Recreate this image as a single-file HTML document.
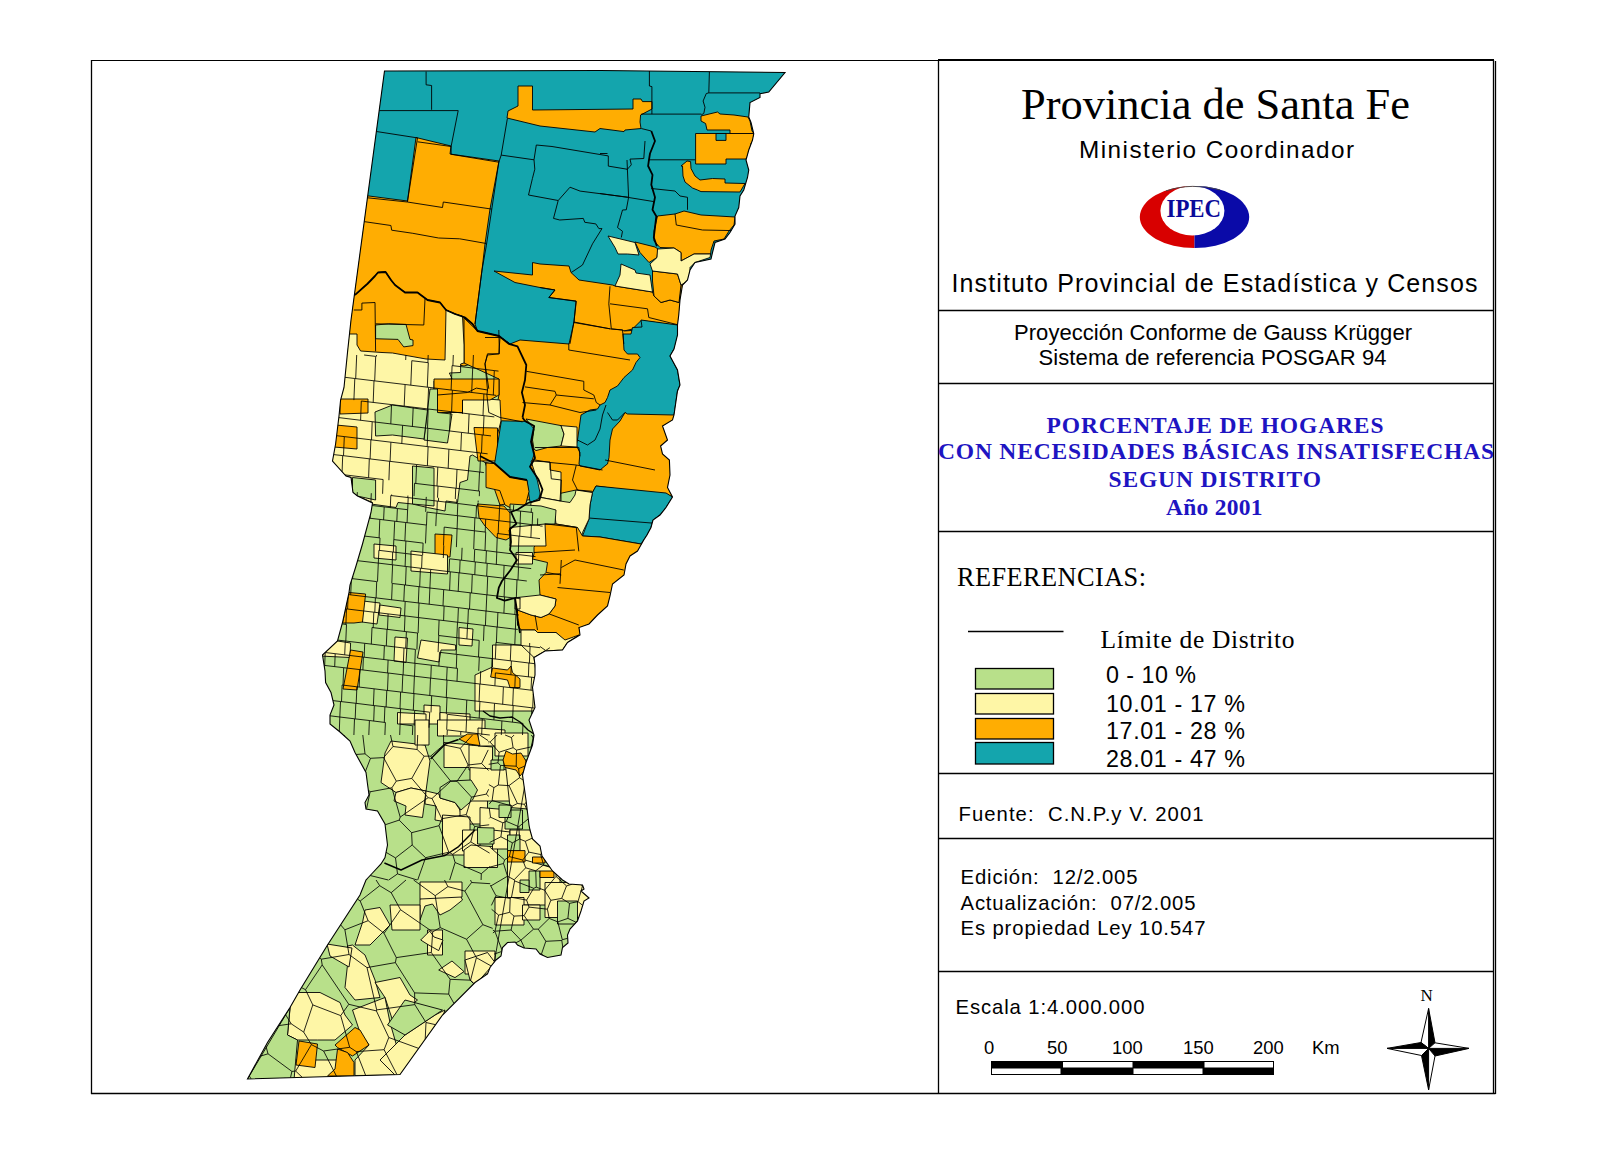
<!DOCTYPE html>
<html><head><meta charset="utf-8"><title>Provincia de Santa Fe - NBI 2001</title>
<style>
html,body{margin:0;padding:0;background:#fff;}
body{width:1599px;height:1152px;overflow:hidden;font-family:"Liberation Sans",sans-serif;}
svg{display:block;}
</style></head><body>
<svg width="1599" height="1152" viewBox="0 0 1599 1152">
<defs><clipPath id="prov"><polygon points="384.5,71 600,70.5 785,72.5 768.75,92 760,93.75 760,97.5 750,102.5 748.75,117 751,122.5 753.75,133.75 752.5,140 748.75,150 746,160 748.75,170 747.5,177.5 743.75,190 740,196 738.75,207.5 735,216 735,224 730,232.5 725,239 715,242.5 712.5,252.5 711,259 695,262.5 690,270 687.5,280 682.5,285 680,300 678.75,315 677.5,325 677.5,335 674,349 670,356 677.5,370 680,385 677.5,391 674,415 672.5,420 662.5,426 667.5,440 660.6,446 662.5,454 669.4,460 670,475 667.5,487.5 672.5,497 666,507.5 660,515 653,520 651,527.5 647,535 643.75,540 637.5,551 630,556 626,564 624,575 612.5,584 610,596 607.5,606 597.5,615 589,624 579,627.5 580,635 567.5,642.5 562.5,650 545,651 534,657.5 535,665 535,675 532.5,687.5 535,707.5 529,720 534,735 532.5,745 526,762.5 522.5,775 526,800 529,825 530,830 532.5,839 540,846 542,856 552.5,871 562.5,880 569,884 582.5,885 584,889 581,891 589,898 584,901 581,911 577.5,921 570,929 567.5,935 568,943 562.5,947.5 561,955 547.5,957.5 540,954 536,949 524,948 517.5,945 515,942 507.5,942.5 502.5,947.5 501,956 496,960 490,967.5 487.5,974 475,982.5 442.5,1015 400,1074.5 247.5,1079 267.5,1042.5 290,1007.5 300,990 327.5,945 360,895 366,880 372.5,873 381,864 385,857.5 387.5,845 386,832.5 385,824 377.5,811 366,809 365,802.5 369,795 367.5,784 366,772.5 355,752.5 350,741 340,732 330,724 330,715 334,705 331,692.5 325.6,682.5 325,671 322.5,655 337.5,641 342.5,622.5 349,592.5 350,585 356,566 362.5,544 371,512.5 372.5,503 357.5,496 353,492.5 351,477.5 346,476 332.5,461 335.6,444 339,416 340.6,400 344,387.5 347.5,352.5 351,320"/></clipPath></defs>
<g id="map">
<polygon points="384.5,71 600,70.5 785,72.5 768.75,92 760,93.75 760,97.5 750,102.5 748.75,117 751,122.5 753.75,133.75 752.5,140 748.75,150 746,160 748.75,170 747.5,177.5 743.75,190 740,196 738.75,207.5 735,216 735,224 730,232.5 725,239 715,242.5 712.5,252.5 711,259 695,262.5 690,270 687.5,280 682.5,285 680,300 678.75,315 677.5,325 677.5,335 674,349 670,356 677.5,370 680,385 677.5,391 674,415 672.5,420 662.5,426 667.5,440 660.6,446 662.5,454 669.4,460 670,475 667.5,487.5 672.5,497 666,507.5 660,515 653,520 651,527.5 647,535 643.75,540 637.5,551 630,556 626,564 624,575 612.5,584 610,596 607.5,606 597.5,615 589,624 579,627.5 580,635 567.5,642.5 562.5,650 545,651 534,657.5 535,665 535,675 532.5,687.5 535,707.5 529,720 534,735 532.5,745 526,762.5 522.5,775 526,800 529,825 530,830 532.5,839 540,846 542,856 552.5,871 562.5,880 569,884 582.5,885 584,889 581,891 589,898 584,901 581,911 577.5,921 570,929 567.5,935 568,943 562.5,947.5 561,955 547.5,957.5 540,954 536,949 524,948 517.5,945 515,942 507.5,942.5 502.5,947.5 501,956 496,960 490,967.5 487.5,974 475,982.5 442.5,1015 400,1074.5 247.5,1079 267.5,1042.5 290,1007.5 300,990 327.5,945 360,895 366,880 372.5,873 381,864 385,857.5 387.5,845 386,832.5 385,824 377.5,811 366,809 365,802.5 369,795 367.5,784 366,772.5 355,752.5 350,741 340,732 330,724 330,715 334,705 331,692.5 325.6,682.5 325,671 322.5,655 337.5,641 342.5,622.5 349,592.5 350,585 356,566 362.5,544 371,512.5 372.5,503 357.5,496 353,492.5 351,477.5 346,476 332.5,461 335.6,444 339,416 340.6,400 344,387.5 347.5,352.5 351,320" fill="#B8E08A" stroke="none"/>
<g clip-path="url(#prov)" stroke="#000" stroke-width="0.9" stroke-linejoin="round">
<!-- NORTH -->
<g id="north">
<polygon fill="#14A5AD" points="330,60 800,60 800,352 330,352"/>
<!-- O1 top center band -->
<polygon fill="#FFAD02" points="518,86 532.5,86 532.5,110 633,109 633,99 641,99 642.5,101.6 652,101.6 652,109 640.6,115 640,122 641,128.5 625,130 624,131.6 600,128.5 595,132 540,126 507,118 508,111 518,106"/>
<!-- O2 left big -->
<polygon fill="#FFAD02" points="416,137.5 451,146 450,154 499,161 490,209 485,244 482,270 475,324 477.5,331 472.5,324 465,317.5 455,314 446,310 440,302.5 427.5,300 417.5,292.5 405,292.5 395,285 391,280 385.6,272 378,272.5 375,276 367.5,283.75 355.6,294.4 340,300 340,195 369,196 407.5,201"/>
<!-- O4 below jagged, left -->
<polygon fill="#FFAD02" points="340,300 355.6,294.4 367.5,283.75 375,276 378,272.5 385.6,272 391,280 395,285 405,292.5 417.5,292.5 427.5,300 440,302.5 446,310 455,314 465,317.5 472.5,324 477.5,331 499,336 510,344 512.5,352 464,366 445,362 426,360 392.5,354 330,353"/>
<!-- O3 band and right orange -->
<polygon fill="#FFAD02" points="494,271 532.5,275 532.5,262.5 540,264 569,266 571,272.5 579,280 612.5,285 615,286 652.5,292 654,296 661,302.5 670,300 679,302.5 681,285 690,280 682,300 680,326 652.5,322 641,320.6 632.5,329 624,331 624,352 570,352 574,322.5 576,301 549,297.5 555,290 540,287.5 515,282.5"/>
<!-- NE oranges -->
<polygon fill="#FFAD02" points="701,116 717.5,112 720,114 734,115 748,117 750,121 752,131 754,133.5 730,133.5 730,130 707,130 705.6,123.5 701,121"/>
<polygon fill="#FFAD02" points="695.6,133.5 754,133.5 754,140 751,143.5 750,152 746,159 726,159 726,164 695.6,164"/>
<polygon fill="#14A5AD" points="716,133.5 726,133.5 726,140.4 716,140.4"/>
<polygon fill="#FFAD02" points="687,161 690.6,161.6 691,168.5 695,176 700,180 712.5,178.5 725,179 725,183 745,183.5 740,192 701,191.6 697.5,190 692.5,188 685,182 683,176 682.5,166 681,166"/>
<polygon fill="#FFAD02" points="657.5,216 675,214 684,211 701,215 735,217 734,225 729,231 724,239 714,241 711,250 710.6,254 694,254 681,261 681,252.5 674,248 660,247.5 654,241 654,231"/>
<!-- small orange near yellow -->
<polygon fill="#FFAD02" points="635,242 655,247 658,249 657,257.5 649,262.5 640,252.5"/>
<polygon fill="#FFAD02" points="652.5,271 677.5,274 681,285 679,302.5 670,300 661,302.5 654,296 652.5,281"/>
<!-- yellows -->
<polygon fill="#FEF6A6" points="608,236 635,242.5 639,255 627.5,254 618,254 615,247.5"/>
<polygon fill="#FEF6A6" points="621,264 635,270 636,273 650,275 652.5,292 615,286 620,275"/>
<polygon fill="#FEF6A6" points="657.5,249 674,248 681,252.5 681,261 694,254 710.6,254 710,257.5 695,262.5 690,267.5 690,280 681,285 677.5,274 652.5,271 650,264 657,257.5"/>
</g>
<!-- MID -->
<g id="mid">
<!-- O_m1 big orange under T_a -->
<polygon fill="#FFAD02" points="464,318 477.5,331 499,336 510,344 520,340 569,344 574,322 611,329 622.5,330 624,331 700,326 700,500 596,486 592.5,492.5 576,490 541,497.5 500,505 485,462 499,395 499,379 464,363"/>
<!-- Y1 big west yellow -->
<polygon fill="#FEF6A6" points="330,334 357,334 357,345 360.6,351 382,352.5 392.5,353 426,359 445,360 446,310 455,314 462.5,316 464,345 464,363 460.6,364 460.6,372.5 449.4,373 452,379 434,381 434,395 462,397 500,400 501,421 496,440 497.5,450 495,464 485,462.5 472.5,455 470,456 467.5,480 460,482.5 457.5,502.5 446,501 445,511 427.5,507.5 412.5,504 398,502.5 396,507.5 371,504 372.5,502.5 357.5,496 353,492.5 351,477.5 346,476 330,460"/>
<!-- green patch north -->
<polygon fill="#B8E08A" points="375.6,325 388.75,323.75 406,324.4 410,339.4 413,340 413,345.6 403.75,346.9 398,339.4 375.6,338.75"/>
<!-- orange patches in Y1 -->
<polygon fill="#FFAD02" points="434,379 499,379 499,395 490,400 462.5,400 462.5,412.5 437.5,412.5 437.5,392 434,390"/>
<polygon fill="#FFAD02" points="340,399 368,399 368,413 340,414"/>
<polygon fill="#FFAD02" points="336,425 357,427 357,449 334,447"/>
<polygon fill="#FFAD02" points="474,427.5 497.5,428 497.5,461 478,461 476,445"/>
<!-- green patches in Y1 -->
<polygon fill="#B8E08A" points="430,389 437.5,389 437.5,412.5 452,414 447.5,443 424,440 427.5,410"/>
<polygon fill="#B8E08A" points="375,412 392.5,405 427.5,410 424,439 392.5,435 375.6,436"/>
<polygon fill="#B8E08A" points="352.5,477.5 375.6,480 375.6,500 357,496 352.5,492"/>
<polygon fill="#B8E08A" points="412.5,466 434,468 434,506 412.5,504"/>
<!-- teal T_b -->
<polygon fill="#14A5AD" points="641,320 677.5,325 679,340 674,349 670,356 677.5,370 680,385 677.5,391 674,415 627.5,414 625,412.5 620,421 612.5,429 610,440 609,457.5 607.5,464 606,465 600,470 580,466 579,464 580,452.5 576,445 577.5,440 581,415 590,410 597.5,409 600,405 605,402.5 607.5,397.5 610,390 617.5,386 624,377.5 632.5,370 636,362.5 640,357.5 637.5,354 627.5,354 624,350 623,334 631,334 632.5,327.5 642,327"/>
<!-- teal T_c -->
<polygon fill="#14A5AD" points="501.4,420.8 524.8,421.4 534.2,426 532,441.7 534.2,454.2 530,466.7 538.3,479.2 541.5,489.6 538.3,500 530,502 528,489.6 527,480.2 510,477 494.6,463.5 497.7,443.75"/>
<!-- teal T_d -->
<polygon fill="#14A5AD" points="596,486 666,493 672.5,497 666,507.5 660,515 653,520 651,527.5 647,535 641,544 600,537 582.5,536 589,519 590,505 592.5,492.5"/>
<!-- center patches -->
<polygon fill="#B8E08A" points="526,419 561,425.6 564,434 561,446 547.5,447.5 536,450.6 534,449 532.5,440 534,429"/>
<polygon fill="#FEF6A6" points="561,425.6 577,427 577,447 561,446 564,434"/>
<polygon fill="#FEF6A6" points="531,461 550,462 550,470 561,472 561,501 541,497.5 537.5,481"/>
<polygon fill="#FEF6A6" points="576,490 592.5,492.5 590,505 589,519 582.5,532.5 580,544 577.5,527.5 556,524 555,516 541,515 530,516 531,502.5 541,497.5 560,501 570,502.5 575,495"/>
<!-- orange south of T_c -->
<polygon fill="#FFAD02" points="486,463 494.6,463.5 510,477 527,480.2 529,491.7 525.8,504 518.5,510.4 511,508 505,505 499.8,490.6 486,487.5"/>
<polygon fill="#FFAD02" points="477.5,504 504,506 514,517.5 516,524 509,530 510,537.5 506,540 496,537.5 485,526 479,517.5"/>
<!-- orange O_m2 below T_d -->
<polygon fill="#FFAD02" points="545,524 556,524 577.5,527.5 582.5,536 600,537 641,544 700,544 700,660 579,627.5 582,636 565,641 556,632.5 537.5,632.5 535,630 521,630 517.5,625 517.5,610 531,615 541,617.5 549,614 555,606 556,599 540,595 539,580 546,572.5 547.5,562.5 532.5,559 534,554 534,547.5"/>
<polygon fill="#FEF6A6" points="517.5,597.5 540,595 556,599 555,606 549,614 541,617.5 531,615 517.5,610"/>
<polygon fill="#FEF6A6" points="516,552.5 532.5,552.5 532.5,564 516,564"/>
<!-- green & yellow between -->
<polygon fill="#B8E08A" points="510,504 541,506 556,510 555,524 545,524 534,530 510,530"/>
<polygon fill="#FEF6A6" points="510,527.5 545,524 546,546 510,546"/>
<polygon fill="#FFAD02" points="435,534 452,535 450,557 435,556"/>
<polygon fill="#FEF6A6" points="374,544 396,546 396,560 374,558"/>
<polygon fill="#FEF6A6" points="411,551 447.5,555 447.5,574 411,571"/>
</g>
<!-- SOUTH -->
<g id="south">
<!-- yellows -->
<g fill="#FEF6A6">
<polygon points="363,601 380,603 377,624 362,622"/>
<polygon points="380,605 401,608 400,617.5 379,615"/>
<polygon points="320,641 337.5,641 350.6,643 350,657.5 320,656"/>
<polygon points="395,637 407.5,638 406,662.5 394,661"/>
<polygon points="421,640 455.6,645 455.6,650 441,650 439,662 417.5,658"/>
<polygon points="459,627.5 473,629 472,646 459,645"/>
<polygon points="515,597.5 520,597.5 520,609 515,609"/>
<polygon points="521,630 535,630 537.5,632.5 556,632.5 565,640 579,635 567.5,642.5 562.5,650 545,651 534,657.5 521,655"/>
<polygon points="492.5,645 521,645 534,657.5 535,665 540,700 536,711 475,711 475,675 492.5,667"/>
<polygon points="424,705 440,706 440,724 424,724"/>
<polygon points="397.5,712.5 426,714 426,724 397.5,724"/>
<polygon points="440,712.5 470,714 470,724 440,724"/>
<polygon points="391,741 425,745 430,761 426,791 411,788 396,792.5 381,782.5 385,753"/>
<polygon points="396,792.5 411,788 426,791 422.5,817.5 405,815 406,806 394,801"/>
<polygon points="415,720 429,720 429,745 415,745"/>
<polygon points="437.5,720 485,720 485,732.5 467.5,736 437.5,736"/>
<polygon points="444,742.5 472.5,745 472.5,767.5 444,767.5"/>
<polygon points="469,745 492.5,747 492.5,770 469,770"/>
<polygon points="478,728 505,730 505,746 478,746"/>
<polygon points="495,733 528,733 528,756 495,756"/>
<polygon points="426,791 439,794 440,798 455,802.5 460,810 461,815 450,822.5 435,820 436,806 425,804"/>
<polygon points="460,792.5 487.5,795 487.5,824 460,824"/>
<polygon points="470,767.5 510,770 510,801 470,801"/>
<polygon points="442.5,815 470,817 470,855 442.5,855"/>
<polygon points="480,807.5 510,810 510,832.5 480,832.5"/>
<polygon points="462.5,830 480,830 480,851 462.5,851"/>
<polygon points="471,845 497.5,847 497.5,867.5 464,867.5 464,850"/>
<polygon points="492.5,830 510,832 510,849 492.5,849"/>
<polygon points="505,760 540,760 540,810 510,807.5"/>
<polygon points="510,830 545,830 545,862.5 510,862.5"/>
<polygon points="507.5,855 560,870 560,905 507.5,905"/>
<polygon points="545,882.5 595,882.5 595,917.5 545,917.5"/>
<polygon points="420,899 447.5,882.5 457.5,890 462.5,900 450,910 440,915 432.5,904 425,906 420,920"/>
<polygon points="495,897.5 524,897.5 524,925 495,925"/>
<polygon points="522.5,905 540,905 540,920 522.5,920"/>
<polygon points="427.5,930 442.5,930 442.5,955 427.5,955"/>
<polygon points="465,951 495,951 495,974 465,974"/>
<polygon points="420,882 462,882 462,897 420,899"/>
<polygon points="365,910 380,907.5 390,925 380,935 370,945 355,945 362.5,922.5"/>
<polygon points="390,905 420,905 420,930 392,930"/>
<polygon points="347.5,946 352.5,945 365,955 375,980 380,997.5 355,1000 345,987.5 347.5,965"/>
<polygon points="375,982.5 400,977.5 410,995 417.5,1000 392.5,1020 385,997.5"/>
<polygon points="465,960 487.5,952.5 495,962.5 475,985 470,980"/>
<polygon points="290,992.5 320,992.5 340,1002.5 345,1015 352.5,1025 335,1040 317.5,1040 297.5,1040 287.5,1035 290,1009"/>
<polygon points="352.5,1010 385,997.5 390,1022.5 405,1075 355,1075.5 355,1060 369,1045 360,1032.5"/>
<polygon points="405,1035 435,1015 445,1010 420,1080 400,1080 380,1060"/>
<polygon points="285,1060 340,1060 340,1080 285,1080"/>
<polygon points="327,944 352,948 349,967 330,956"/>
<polygon points="420.7,940 429.7,931 434,937 443,940 438.7,950.6 428,944.6"/>
<polygon points="438.7,970 452,961 464,971.6 455,977.6"/>
</g>
<!-- greens on top -->
<g fill="#B8E08A">
<polygon points="440,787.5 450,781 471,780 477.5,790 472.5,800 461,810 455,802.5 440,798"/>
<polygon points="491,760 504,760 504,770 491,770"/>
<polygon points="477.5,827.5 494,828 494,844 477.5,844"/>
<polygon points="505,810 522.5,810 522.5,829 505,829"/>
<polygon points="499,805 511,805 511,817.5 499,817.5"/>
<polygon points="507.5,835 520,835 520,851 507.5,851"/>
<polygon points="529,871 540,871 540,890 529,890"/>
<polygon points="520,880 529,880 529,892.5 520,892.5"/>
<polygon points="557.5,901 577.5,901 577.5,924 557.5,924"/>
<polygon points="387.5,1025 405,1000 442.5,1010 435,1015 405,1035"/>
</g>
<!-- oranges -->
<g fill="#FFAD02">
<polygon points="349,592.5 365.6,594 362.5,622 354,623 342.5,623"/>
<polygon points="350.6,650 363,652 357,690 343,689"/>
<polygon points="492.5,668 507.5,670 511,666 512.5,672.5 520,679 520,687.5 510,687.5 507.5,680 490.6,677"/>
<polygon points="467.5,734 477.5,734 480,745.6 469,744 459,739"/>
<polygon points="506,751 512.5,754 521,753 526,761 525,770 520,776 516,770 505,767.5 503,760"/>
<polygon points="507.5,850.6 525,850.6 525,862 507.5,862"/>
<polygon points="532.5,857 545,857 545,863 532.5,863"/>
<polygon points="540,871 554,871 554,877.5 540,877.5"/>
<polygon points="299,1041 317.5,1044 315,1067.5 296,1065"/>
<polygon points="335,1045 355,1027.5 360,1030 369,1045 352.5,1056 337.5,1047.5"/>
<polygon points="337.5,1049 347.5,1052.5 354,1062.5 354,1076 327.5,1076 335,1069"/>
</g>
<polygon fill="#B8E08A" points="247.5,1079 290,1007.5 287.5,1035 297.5,1040 294,1080 240,1080"/>
</g>
<g fill="none" stroke="#000" stroke-width="0.9" stroke-linejoin="round">
<path d="M426.1,71.5 L426.1,84.8 L431.6,85.5 L431.6,109.8
M370,110.6 L458.2,110.6 L451.1,146.5 L451.1,154.3 L498.8,162.2
M370,130.5 L417.5,137.9 L407.4,202
M417.5,141.8 L451.1,146.5
M507.4,118.4 L501.2,155.1 L498.8,162.2 L486.3,245.8 L482,270 L475,324
M360,197 L407.4,202 L442.5,207.5 L443.3,202 L491.8,209.1
M360,221 L390.9,225.5 L391.7,230.2 L412.8,233.3 L438.6,238 L459.7,238.8 L486.3,243.5
M501.2,155.1 L534,159.8 L536.3,145 L552,146.5 L608.3,155.9 L608.3,166.1 L627,169.2
M534,159.8 L534.8,169.2 L532.4,178.6 L528.5,195 L558.2,200.5 L570,187.2 L580.1,191.1 L628.6,197.3
M558.2,200.5 L553.5,218.4 L559.8,220 L583.3,218.4 L584.8,222.3 L595.8,223.9 L598.9,228.6 L602,228.6 L592.5,243.8 L582.5,265 L571.3,272.5
M627,160 L628.6,197.3 L626.3,209.8 L622.5,210 L617.5,227.5 L622.5,231.3 L621.3,237.5
M649.4,70.4 L649.4,86 L651.9,86.6 L651.9,114.1
M641.3,114.1 L701.3,114.1
M709.4,71.6 L708.8,92.9 L760,92.9
M708.8,92.9 L706.3,93.5 L703.1,101 L705,107.3 L703.8,113.5 L701.3,114.8
M641.3,128.5 L651.3,131
M648.8,159.8 L695,159.8
M600,153.5 L607.5,153.5
M645,141 L643.8,158.5 L630,159.1 L631.3,164.8 L626.9,169.8
M600,193.5 L627.5,197.3 L653.8,201.6
M651.3,188.5 L675,191 L680,196 L687.5,197.3 L687.5,209.8
M675,213.8 L676.3,225 L702.5,230 L732.5,230.6
M540,287.5 L555,290 L548.8,297.5 L576.3,301.3 L573.8,322.5 L570,343.8
M610,286.3 L608.8,303.8 L611.3,328.8 L622.5,330 L623.8,343.8
M610,303.8 L647.5,308.8 L648.8,317.5 L678.8,325
M573.8,322.5 L610,328.8
M353.8,310 L361.9,310 L361.9,303.1 L375,302.5 L375.6,351.3
M375.6,323.8 L423.8,325 L425,298.8
M485,337.5 L500,337.5 L498.8,353.8 L487.5,353.8 L485,363.8 L488.8,388.8
M437.5,395 L467.5,392.5 L476.3,388.1 L487.5,390
M462.5,400 L462.5,413.8
M498.8,330 L499.4,353.8 L487.5,355 L485,363.8 L487.5,390 L486.9,395 L488.8,412.5 L500,417.5 L522.5,421.9
M568.8,343.8 L568.8,350 L630,360
M526.3,371.3 L583.8,381.3 L583.8,390 L593.8,395 L596.3,402.5 L600,405
M525,386.9 L555,391.3 L556.3,395 L593.8,398.8
M522.5,402.5 L550,405 L556.3,395
M550,405 L580,412.5 L596.3,410
M535,447.5 L578.8,447.5 L580,456.3
M535,460 L550,462.5 L576.3,465 L602.5,470
M550,462.5 L551.3,478.8 L561.3,480 L560,501.3
M576.3,465 L572.5,480 L577.5,490 L592.5,491.3
M605,460 L655,470
M590,518.1 L652.5,523.1
M545,523.8 L576.3,527.5 L578.8,551.3
M533.8,552.5 L575,550
M561.3,560 L560,583.8
M540,575 L560,573.8
M575,560 L623.8,570
M557.5,587.5 L610,592.5
M561.3,567.5 L575,560
M548.8,613.8 L578.8,625
M535,615 L537.5,630
M546.3,572.5 L561.3,575
M577.5,440 L587.5,445 L595,440 L600,429 L602.5,415 L606,405
M607.5,412.5 L612.5,420 L617.5,420 L625,412.5
"/>
</g>
<g fill="none" stroke="#000" stroke-width="1.4" stroke-linejoin="round">
<path d="M384.4,863 L401,870 L422,860 L445,855.5 L458.6,846.6 L467,838 L475,830"/>
<path d="M430.6,759 L445.4,744 L458.6,739.5"/>
<path d="M483,711 L490,716 L500,718 L512,717 L520,722 L528,730 L534,734"/>
</g>
<g fill="none" stroke="#000" stroke-width="1.8" stroke-linejoin="round">
<path d="M340,300 L355.6,294.4 L367.5,283.75 L375,276 L378,272.5 L385.6,272 L391,280 L395,285 L405,292.5 L417.5,292.5 L427.5,300 L440,302.5 L446,310 L455,314 L465,317.5 L472.5,324 L477.5,331 L499,336 L508.8,343.8 L517.5,346.3 L526.3,365 L525,380 L521.9,392.5 L525,405 L522.5,417.5"/>


<path d="M522.5,417.5 L524.8,420.8 L534.2,426 L531,441.7 L535,458 L530,466.7 L538.3,479.2 L542.5,489.6 L539.4,500 L528,503"/>
<path d="M480,456 L494.6,463.5 L510,477 L527,480"/>
<path d="M528,503 L517.7,509.5 L511,512 L516.4,523.8 L510,529 L511,542 L510,550 L517,560 L510,570.7 L502,581 L498.8,587.6 L496.9,598 L504.7,600.6 L515,598 L516.4,607 L517.7,620 L520,633"/>
<path d="M651.3,131 L655,141 L650,153.5 L648.8,161 L648.1,166 L652.5,174.8 L651.3,184.8 L655,197.3 L652.5,209.8 L656.3,216.3 L653.8,237.5 L656.9,246.3"/>
</g>
<path fill="none" stroke="#000" stroke-width="0.85" d="M391.6,494.5 L391.6,495.6 M407.9,495.6 L407.8,497.5 M426.3,496.9 L426.1,499.7 M438.6,497.8 L438.4,501.2 M456.9,499.1 L456.7,503.4 M478.2,500.6 L478.1,502.6 M478.1,503.0 L477.9,506.0 M499.8,504.3 L499.6,508.6 M513.7,505.1 L513.4,510.2 M531.4,508.2 L531.2,512.3 M357.3,492.1 L357.2,495.7 M371.3,493.2 L370.9,502.3 M390.8,495.5 L390.3,507.6 M408.2,497.6 L407.7,509.7 M426.2,499.8 L425.7,511.9 M437.3,501.1 L436.9,513.2 M457.8,503.5 L457.3,515.7 M476.5,505.8 L476.0,517.9 M499.5,508.5 L499.0,520.7 M520.6,511.1 L520.1,523.2 M532.7,512.5 L532.2,524.7 M537.7,518.4 L537.5,525.3 M390.8,495.5 L408.2,497.6 M408.2,497.6 L426.2,499.8 M426.2,499.8 L437.3,501.1 M437.3,501.1 L457.8,503.5 M457.8,503.5 L476.5,505.8 M476.5,505.8 L499.5,508.5 M499.5,508.5 L520.6,511.1 M520.6,511.1 L532.7,512.5 M370.2,515.3 L370.1,518.3 M384.2,506.9 L383.6,519.9 M397.4,508.5 L396.8,521.5 M407.6,509.7 L407.1,522.7 M427.0,512.1 L426.5,525.0 M436.4,513.2 L435.8,526.1 M457.6,515.7 L457.1,528.7 M474.9,517.8 L474.4,530.8 M485.7,519.1 L485.2,532.1 M498.7,520.7 L498.2,533.6 M520.2,523.2 L519.7,536.2 M531.4,524.6 L530.9,537.5 M372.1,505.5 L384.2,506.9 M384.2,506.9 L397.4,508.5 M397.4,508.5 L407.6,509.7 M427.0,512.1 L436.4,513.2 M436.4,513.2 L457.6,515.7 M457.6,515.7 L474.9,517.8 M474.9,517.8 L485.7,519.1 M485.7,519.1 L498.7,520.7 M498.7,520.7 L520.2,523.2 M520.2,523.2 L531.4,524.6 M531.4,524.6 L540.0,525.6 M379.8,519.4 L379.1,537.8 M394.7,521.2 L393.9,539.6 M405.7,522.5 L404.9,540.9 M426.3,525.0 L425.5,543.4 M444.2,527.1 L443.5,545.6 M457.1,528.7 L456.4,547.1 M474.4,530.8 L473.7,549.2 M485.7,532.1 L485.0,550.5 M497.4,533.5 L496.7,551.9 M519.0,536.1 L518.2,554.5 M369.5,518.2 L379.8,519.4 M379.8,519.4 L394.7,521.2 M394.7,521.2 L405.7,522.5 M405.7,522.5 L426.3,525.0 M444.2,527.1 L457.1,528.7 M457.1,528.7 L474.4,530.8 M474.4,530.8 L485.7,532.1 M497.4,533.5 L519.0,536.1 M519.0,536.1 L540.0,538.6 M380.0,537.9 L379.5,550.4 M393.8,539.6 L393.3,552.0 M405.9,541.0 L405.4,553.5 M423.1,543.1 L422.6,555.5 M443.8,545.6 L443.3,558.0 M462.1,547.8 L461.6,560.2 M474.7,549.3 L474.2,561.7 M486.4,550.7 L485.9,563.1 M496.8,552.0 L496.3,564.4 M518.7,554.6 L518.2,567.0 M364.6,536.1 L380.0,537.9 M393.8,539.6 L405.9,541.0 M405.9,541.0 L423.1,543.1 M474.7,549.3 L486.4,550.7 M486.4,550.7 L496.8,552.0 M496.8,552.0 L518.7,554.6 M518.7,554.6 L535.5,556.6 M378.9,550.3 L378.3,563.1 M392.7,552.0 L392.2,564.8 M405.6,553.5 L405.1,566.4 M422.1,555.5 L421.6,568.3 M449.6,558.8 L449.0,571.6 M460.1,560.0 L459.6,572.9 M475.3,561.9 L474.8,574.7 M487.2,563.3 L486.7,576.1 M504.1,565.3 L503.6,578.2 M518.5,567.1 L518.0,579.9 M378.9,550.3 L392.7,552.0 M392.7,552.0 L405.6,553.5 M405.6,553.5 L422.1,555.5 M449.6,558.8 L460.1,560.0 M460.1,560.0 L475.3,561.9 M475.3,561.9 L487.2,563.3 M487.2,563.3 L504.1,565.3 M504.1,565.3 L518.5,567.1 M518.5,567.1 L531.2,568.6 M352.7,576.4 L352.6,578.7 M378.3,563.1 L377.5,581.7 M392.6,564.8 L391.8,583.4 M406.2,566.5 L405.5,585.0 M420.4,568.2 L419.7,586.7 M430.7,569.4 L429.9,588.0 M450.3,571.8 L449.6,590.3 M459.0,572.8 L458.2,591.4 M472.3,574.4 L471.6,593.0 M487.7,576.3 L487.0,594.8 M504.8,578.3 L504.1,596.9 M517.0,579.8 L516.3,598.3 M357.6,560.7 L378.3,563.1 M378.3,563.1 L392.6,564.8 M392.6,564.8 L406.2,566.5 M406.2,566.5 L420.4,568.2 M420.4,568.2 L430.7,569.4 M430.7,569.4 L450.3,571.8 M450.3,571.8 L459.0,572.8 M459.0,572.8 L472.3,574.4 M472.3,574.4 L487.7,576.3 M487.7,576.3 L504.8,578.3 M504.8,578.3 L517.0,579.8 M517.0,579.8 L526.8,581.0 M351.3,581.0 L350.7,594.8 M376.7,581.6 L376.1,597.9 M392.3,583.5 L391.6,599.7 M404.5,584.9 L403.8,601.2 M419.0,586.7 L418.3,602.9 M429.9,588.0 L429.2,604.2 M443.7,589.6 L443.0,605.9 M470.2,592.8 L469.5,609.1 M486.8,594.8 L486.1,611.1 M504.6,596.9 L503.9,613.2 M515.6,598.2 L514.9,614.5 M352.0,578.6 L376.7,581.6 M392.3,583.5 L404.5,584.9 M404.5,584.9 L419.0,586.7 M419.0,586.7 L429.9,588.0 M429.9,588.0 L443.7,589.6 M443.7,589.6 L470.2,592.8 M470.2,592.8 L486.8,594.8 M486.8,594.8 L504.6,596.9 M504.6,596.9 L515.6,598.2 M515.6,598.2 L520.4,598.8 M348.1,596.5 L347.6,609.0 M375.4,597.8 L374.8,612.3 M405.2,601.4 L404.6,615.9 M419.0,603.0 L418.4,617.5 M444.1,606.0 L443.6,620.5 M458.4,607.7 L457.8,622.2 M468.4,608.9 L467.8,623.5 M486.0,611.0 L485.4,625.6 M497.9,612.5 L497.3,627.0 M515.9,614.6 L515.4,629.2 M348.6,594.6 L375.4,597.8 M375.4,597.8 L405.2,601.4 M405.2,601.4 L419.0,603.0 M419.0,603.0 L444.1,606.0 M444.1,606.0 L458.4,607.7 M458.4,607.7 L468.4,608.9 M468.4,608.9 L486.0,611.0 M486.0,611.0 L497.9,612.5 M497.9,612.5 L515.9,614.6 M515.9,614.6 L518.9,615.0 M346.5,608.9 L345.9,624.4 M373.8,612.2 L373.2,627.7 M388.1,613.9 L387.5,629.4 M405.0,615.9 L404.4,631.4 M418.7,617.6 L418.1,633.1 M439.1,620.0 L438.5,635.5 M457.5,622.2 L456.8,637.7 M467.6,623.4 L466.9,638.9 M484.1,625.4 L483.5,640.9 M497.0,627.0 L496.4,642.5 M515.4,629.2 L514.8,644.7 M529.7,643.0 L529.6,646.4 M345.5,608.8 L346.5,608.9 M346.5,608.9 L373.8,612.2 M373.8,612.2 L388.1,613.9 M388.1,613.9 L405.0,615.9 M405.0,615.9 L418.7,617.6 M418.7,617.6 L439.1,620.0 M439.1,620.0 L457.5,622.2 M457.5,622.2 L467.6,623.4 M467.6,623.4 L484.1,625.4 M484.1,625.4 L497.0,627.0 M497.0,627.0 L515.4,629.2 M515.4,629.2 L517.8,629.4 M346.5,624.5 L345.8,641.0 M372.0,627.5 L371.3,644.1 M387.0,629.3 L386.3,645.9 M406.4,631.7 L405.7,648.2 M417.5,633.0 L416.9,649.6 M438.8,635.5 L438.1,652.1 M456.9,637.7 L456.2,654.3 M479.2,640.4 L478.5,657.0 M496.0,642.4 L495.3,659.0 M511.0,644.2 L510.3,660.8 M530.1,646.5 L529.4,663.1 M342.1,623.9 L346.5,624.5 M372.0,627.5 L387.0,629.3 M387.0,629.3 L406.4,631.7 M406.4,631.7 L417.5,633.0 M438.8,635.5 L456.9,637.7 M456.9,637.7 L479.2,640.4 M496.0,642.4 L511.0,644.2 M511.0,644.2 L530.1,646.5 M530.1,646.5 L540.0,647.7 M345.3,641.0 L344.7,654.8 M364.7,643.3 L364.2,657.2 M384.4,645.7 L383.8,659.5 M404.0,648.0 L403.4,661.9 M415.4,649.4 L414.8,663.2 M439.5,652.3 L438.9,666.1 M456.8,654.4 L456.3,668.2 M479.3,657.1 L478.7,670.9 M492.1,658.6 L491.5,672.4 M511.4,660.9 L510.9,674.8 M528.9,663.0 L528.4,676.9 M337.8,640.1 L345.3,641.0 M345.3,641.0 L364.7,643.3 M364.7,643.3 L384.4,645.7 M384.4,645.7 L404.0,648.0 M404.0,648.0 L415.4,649.4 M439.5,652.3 L456.8,654.4 M456.8,654.4 L479.3,657.1 M479.3,657.1 L492.1,658.6 M492.1,658.6 L511.4,660.9 M511.4,660.9 L528.9,663.0 M528.9,663.0 L534.8,663.7 M325.2,652.5 L324.7,665.4 M335.2,653.7 L334.7,666.6 M363.4,657.1 L362.9,670.0 M388.1,660.0 L387.6,672.9 M403.6,661.9 L403.1,674.8 M415.0,663.3 L414.5,676.2 M431.3,665.2 L430.8,678.1 M447.2,667.1 L446.6,680.0 M457.5,668.4 L457.0,681.3 M480.7,671.1 L480.2,684.0 M495.4,672.9 L494.9,685.8 M515.3,675.3 L514.8,688.2 M531.6,677.2 L531.0,690.2 M325.2,652.5 L335.2,653.7 M335.2,653.7 L363.4,657.1 M363.4,657.1 L388.1,660.0 M388.1,660.0 L403.6,661.9 M403.6,661.9 L415.0,663.3 M415.0,663.3 L431.3,665.2 M431.3,665.2 L447.2,667.1 M447.2,667.1 L457.5,668.4 M495.4,672.9 L515.3,675.3 M515.3,675.3 L531.6,677.2 M531.6,677.2 L534.5,677.6 M324.4,665.4 L324.4,667.0 M343.7,667.7 L343.0,685.1 M359.9,669.6 L359.2,687.0 M388.2,673.0 L387.5,690.4 M402.8,674.8 L402.1,692.2 M414.4,676.2 L413.7,693.6 M430.5,678.1 L429.8,695.5 M447.0,680.1 L446.3,697.5 M479.8,684.0 L479.1,701.4 M503.4,686.8 L502.7,704.3 M513.4,688.0 L512.7,705.5 M533.3,693.8 L532.7,707.9 M324.4,665.4 L343.7,667.7 M343.7,667.7 L359.9,669.6 M359.9,669.6 L388.2,673.0 M388.2,673.0 L402.8,674.8 M402.8,674.8 L414.4,676.2 M414.4,676.2 L430.5,678.1 M430.5,678.1 L447.0,680.1 M447.0,680.1 L479.8,684.0 M479.8,684.0 L503.4,686.8 M503.4,686.8 L513.4,688.0 M513.4,688.0 L532.9,690.4 M342.1,685.0 L341.5,701.6 M356.9,686.8 L356.2,703.4 M374.1,688.8 L373.4,705.4 M386.8,690.4 L386.1,707.0 M400.6,692.0 L400.0,708.6 M414.0,693.6 L413.3,710.2 M431.7,695.7 L431.0,712.4 M447.0,697.6 L446.3,714.2 M466.8,700.0 L466.1,716.6 M479.9,701.5 L479.2,718.1 M494.5,703.3 L493.9,719.9 M513.2,705.5 L512.5,722.1 M531.9,707.8 L531.6,714.5 M342.1,685.0 L356.9,686.8 M356.9,686.8 L374.1,688.8 M374.1,688.8 L386.8,690.4 M386.8,690.4 L400.6,692.0 M400.6,692.0 L414.0,693.6 M414.0,693.6 L431.7,695.7 M431.7,695.7 L447.0,697.6 M447.0,697.6 L466.8,700.0 M466.8,700.0 L479.9,701.5 M479.9,701.5 L494.5,703.3 M494.5,703.3 L513.2,705.5 M513.2,705.5 L531.9,707.8 M531.9,707.8 L534.7,708.1 M340.5,701.5 L339.8,717.0 M355.8,703.3 L355.2,718.8 M374.3,705.6 L373.7,721.1 M384.9,706.8 L384.3,722.3 M400.6,708.7 L400.0,724.2 M414.7,710.4 L414.1,725.9 M429.7,712.2 L429.0,727.7 M447.3,714.3 L446.7,729.8 M466.7,716.6 L466.0,732.1 M482.3,718.5 L481.7,734.0 M501.9,720.9 L501.3,735.0 M523.0,723.4 L522.5,735.0 M332.9,700.6 L340.5,701.5 M340.5,701.5 L355.8,703.3 M355.8,703.3 L374.3,705.6 M374.3,705.6 L384.9,706.8 M384.9,706.8 L400.6,708.7 M400.6,708.7 L414.7,710.4 M414.7,710.4 L429.7,712.2 M447.3,714.3 L466.7,716.6 M466.7,716.6 L482.3,718.5 M482.3,718.5 L501.9,720.9 M501.9,720.9 L523.0,723.4 M339.8,717.0 L339.3,731.4 M354.5,718.8 L353.9,735.0 M369.4,720.5 L368.8,735.0 M385.4,722.5 L384.9,735.0 M400.1,724.2 L399.7,735.0 M412.8,725.8 L412.4,735.0 M447.3,729.9 L447.1,735.0 M460.8,731.5 L460.7,735.0 M481.9,734.1 L481.9,735.0 M330.0,715.8 L339.8,717.0 M339.8,717.0 L354.5,718.8 M354.5,718.8 L369.4,720.5 M369.4,720.5 L385.4,722.5 M400.1,724.2 L412.8,725.8 M447.3,729.9 L460.8,731.5 M460.8,731.5 L481.9,734.1 M481.9,734.1 L489.8,735.0 M376.5,355.0 L376.4,356.5 M405.9,355.0 L405.7,360.0 M428.2,355.0 L427.9,362.6 M453.3,355.0 L452.9,365.7 M473.4,355.0 L472.9,368.0 M356.7,355.0 L355.7,378.6 M375.7,356.4 L374.7,380.8 M411.8,360.7 L410.8,385.2 M428.3,362.7 L427.3,387.2 M452.1,365.6 L451.1,390.0 M472.7,368.0 L471.7,392.5 M494.3,370.6 L493.3,395.1 M364.1,355.0 L375.7,356.4 M411.8,360.7 L428.3,362.7 M452.1,365.6 L472.7,368.0 M472.7,368.0 L494.3,370.6 M494.3,370.6 L498.5,371.1 M354.8,378.5 L353.9,400.1 M374.0,380.8 L373.2,402.4 M405.1,384.5 L404.2,406.1 M428.6,387.3 L427.7,408.9 M452.4,390.2 L451.6,411.8 M483.9,393.9 L483.0,415.6 M345.0,377.3 L354.8,378.5 M354.8,378.5 L374.0,380.8 M374.0,380.8 L405.1,384.5 M405.1,384.5 L428.6,387.3 M428.6,387.3 L452.4,390.2 M452.4,390.2 L483.9,393.9 M483.9,393.9 L496.3,395.4 M361.3,401.0 L360.6,420.3 M391.5,404.6 L390.8,423.9 M413.2,407.2 L412.4,426.5 M428.2,409.0 L427.5,428.3 M450.4,411.6 L449.6,430.9 M469.1,413.9 L468.3,433.2 M484.0,415.7 L483.2,435.0 M361.3,401.0 L391.5,404.6 M391.5,404.6 L413.2,407.2 M413.2,407.2 L428.2,409.0 M428.2,409.0 L450.4,411.6 M450.4,411.6 L469.1,413.9 M469.1,413.9 L484.0,415.7 M484.0,415.7 L494.3,416.9 M372.2,421.7 L371.5,439.9 M402.6,425.3 L401.8,443.5 M427.9,428.3 L427.2,446.5 M461.5,432.4 L460.8,450.6 M482.2,434.9 L481.5,453.1 M338.8,417.6 L372.2,421.7 M372.2,421.7 L402.6,425.3 M402.6,425.3 L427.9,428.3 M427.9,428.3 L461.5,432.4 M461.5,432.4 L482.2,434.9 M482.2,434.9 L491.0,435.9 M344.3,436.6 L343.5,455.7 M370.9,439.8 L370.1,458.9 M390.9,442.2 L390.1,461.3 M428.1,446.7 L427.4,465.8 M448.9,449.2 L448.2,468.3 M480.6,453.0 L479.9,472.1 M336.6,435.7 L344.3,436.6 M344.3,436.6 L370.9,439.8 M370.9,439.8 L390.9,442.2 M390.9,442.2 L428.1,446.7 M428.1,446.7 L448.9,449.2 M448.9,449.2 L480.6,453.0 M480.6,453.0 L487.6,453.8 M342.7,455.6 L342.1,471.7 M369.3,458.8 L368.6,477.7 M389.6,461.3 L388.9,480.2 M416.6,464.5 L415.8,483.4 M437.8,467.0 L437.0,486.0 M457.0,469.4 L456.2,488.3 M479.5,472.0 L478.7,491.0 M333.7,454.6 L342.7,455.6 M342.7,455.6 L369.3,458.8 M369.3,458.8 L389.6,461.3 M389.6,461.3 L416.6,464.5 M416.6,464.5 L437.8,467.0 M437.8,467.0 L457.0,469.4 M457.0,469.4 L479.5,472.0 M479.5,472.0 L483.9,472.6 M383.1,479.5 L382.6,493.8 M414.5,483.3 L414.0,496.1 M438.0,486.1 L437.5,497.7 M455.7,488.2 L455.3,499.0 M479.5,491.1 L479.3,496.2 M345.0,474.9 L383.1,479.5 M414.5,483.3 L438.0,486.1 M438.0,486.1 L455.7,488.2 M455.7,488.2 L479.5,491.1 M489.8,866.4 L481.3,873.7 M481.1,880.0 L481.3,873.7 M443.7,744.9 L443.5,735.0 M443.7,744.9 L460.3,748.3 M460.3,748.3 L472.5,735.0 M457.0,781.3 L468.1,765.0 M468.1,765.0 L460.3,748.3 M450.8,781.3 L430.7,756.1 M430.7,756.1 L443.7,744.9 M457.0,781.3 L450.8,781.3 M488.5,770.5 L481.6,763.5 M481.6,763.5 L488.2,749.9 M457.0,781.3 L471.5,797.1 M471.5,797.1 L486.3,794.1 M486.3,794.1 L488.7,789.2 M468.1,765.0 L481.6,763.5 M479.7,735.0 L488.1,740.6 M470.8,841.9 L474.6,826.5 M470.8,841.9 L452.7,854.3 M452.7,854.3 L448.8,852.2 M448.8,852.2 L439.0,825.7 M441.8,818.7 L439.0,825.7 M441.8,818.7 L466.3,814.6 M466.3,814.6 L474.6,826.5 M489.6,853.1 L470.8,841.9 M481.3,873.7 L455.1,862.5 M455.1,862.5 L452.7,854.3 M471.5,797.1 L466.3,814.6 M450.8,781.3 L432.0,798.5 M432.0,798.5 L441.8,818.7 M474.6,826.5 L489.2,824.8 M486.3,794.1 L488.8,796.4 M455.1,862.5 L449.7,880.0 M430.7,756.1 L424.1,756.2 M417.7,735.0 L417.1,749.5 M424.1,756.2 L417.1,749.5 M366.6,808.6 L370.1,791.8 M370.1,791.8 L368.3,789.9 M391.9,787.8 L400.2,817.1 M391.9,787.8 L396.3,781.1 M396.3,781.1 L411.8,778.4 M411.8,778.4 L428.1,797.7 M428.1,797.7 L400.2,817.1 M432.0,798.5 L428.1,797.7 M424.1,756.2 L411.8,778.4 M417.1,749.5 L393.0,746.5 M396.3,781.1 L383.6,757.6 M383.6,757.6 L393.0,746.5 M365.4,771.5 L370.5,758.3 M370.1,791.8 L391.9,787.8 M383.6,757.6 L370.5,758.3 M393.0,746.5 L390.5,735.0 M370.2,875.5 L388.3,880.0 M439.0,825.7 L411.6,832.7 M400.2,817.1 L399.2,820.1 M411.6,832.7 L399.2,820.1 M399.2,820.1 L385.1,824.8 M356.1,754.5 L365.0,753.8 M365.0,753.8 L362.8,735.0 M370.5,758.3 L365.0,753.8 M397.5,873.9 L395.5,857.9 M397.5,873.9 L417.2,880.0 M395.5,857.9 L412.2,845.0 M417.7,880.0 L425.6,857.7 M425.6,857.7 L412.2,845.0 M388.7,880.0 L397.5,873.9 M386.0,852.3 L395.5,857.9 M411.6,832.7 L412.2,845.0 M448.8,852.2 L425.6,857.7 M531.3,735.0 L533.5,738.1 M494.9,931.4 L492.9,933.0 M494.9,931.4 L492.8,930.1 M494.1,954.1 L501.4,951.6 M494.9,931.4 L502.0,950.1 M501.4,951.6 L502.0,950.1 M514.1,735.0 L511.5,737.6 M511.5,737.6 L505.1,735.0 M489.4,742.1 L488.5,741.1 M497.1,735.0 L490.1,742.1 M540.6,854.5 L541.4,853.2 M540.6,854.5 L528.8,852.1 M532.3,838.1 L525.3,841.3 M525.3,841.3 L528.8,852.1 M567.7,938.3 L562.3,939.7 M562.8,947.3 L561.8,940.5 M562.3,939.7 L561.8,940.5 M543.6,864.9 L549.3,866.4 M540.6,854.5 L543.6,864.9 M533.1,740.8 L531.3,746.9 M575.6,923.0 L575.6,922.0 M575.6,922.0 L577.1,921.4 M511.5,737.6 L513.1,747.7 M490.1,742.1 L499.1,752.2 M513.1,747.7 L499.1,752.2 M531.3,746.9 L516.5,750.1 M513.1,747.7 L516.5,750.1 M527.3,810.5 L524.5,804.3 M526.3,802.1 L524.5,804.3 M489.4,742.1 L488.5,742.9 M525.3,841.3 L519.6,839.0 M528.3,818.8 L518.8,826.7 M518.8,826.7 L519.6,839.0 M509.3,856.6 L522.7,860.0 M509.3,856.6 L512.4,842.8 M528.8,852.1 L522.7,860.0 M519.6,839.0 L512.4,842.8 M518.8,826.7 L506.4,821.4 M524.5,804.3 L517.4,803.5 M517.4,803.5 L512.2,806.1 M512.2,806.1 L506.4,821.4 M495.0,931.2 L498.6,915.1 M491.6,909.3 L498.6,915.1 M495.0,931.2 L511.1,930.0 M511.1,930.0 L514.0,916.1 M514.0,916.1 L509.7,912.3 M498.6,915.1 L509.7,912.3 M583.3,887.1 L582.3,886.6 M582.7,905.4 L578.0,901.6 M578.0,901.6 L581.0,891.0 M581.1,891.0 L582.3,886.6 M556.0,874.1 L556.0,876.4 M556.0,876.4 L566.5,885.9 M566.5,885.9 L572.1,884.2 M582.3,886.6 L581.6,884.9 M578.0,901.6 L569.5,903.4 M566.5,885.9 L561.7,898.4 M561.7,898.4 L569.5,903.4 M575.6,922.0 L567.9,918.4 M569.5,903.4 L567.9,918.4 M562.3,939.7 L557.8,921.9 M557.8,921.9 L567.9,918.4 M525.0,766.0 L518.6,768.7 M516.5,750.1 L516.2,766.2 M518.6,768.7 L516.2,766.2 M523.2,780.1 L519.5,777.7 M518.6,768.7 L519.5,777.7 M517.4,803.5 L509.0,785.6 M519.5,777.7 L509.0,785.6 M504.6,859.9 L503.5,863.5 M504.6,859.9 L489.6,846.9 M503.5,863.5 L489.9,867.1 M502.8,822.8 L490.5,817.2 M502.8,822.8 L500.9,836.8 M500.9,836.8 L489.6,842.5 M489.3,818.4 L490.5,817.2 M512.2,806.1 L492.1,800.5 M506.4,821.4 L502.8,822.8 M492.1,800.5 L489.2,804.1 M489.2,807.6 L490.5,817.2 M512.4,842.8 L500.9,836.8 M509.3,856.6 L504.6,859.9 M545.8,941.3 L538.3,929.1 M545.8,941.3 L541.5,953.9 M538.3,929.1 L533.5,929.2 M533.5,929.2 L520.9,940.2 M524.6,948.0 L520.9,940.2 M540.0,954.0 L541.5,953.9 M549.2,918.4 L538.3,929.1 M557.8,921.9 L549.2,918.4 M561.8,940.5 L545.8,941.3 M543.0,955.4 L541.5,953.9 M511.1,930.0 L520.9,940.2 M514.0,916.1 L524.1,915.6 M524.1,915.6 L533.5,929.2 M515.7,942.9 L520.9,940.2 M522.7,860.0 L525.7,867.8 M543.6,864.9 L535.7,870.8 M525.7,867.8 L535.7,870.8 M510.2,898.5 L496.0,895.8 M510.2,898.5 L511.5,897.3 M511.5,897.3 L514.6,880.9 M496.0,895.8 L490.8,886.0 M507.5,876.2 L490.8,886.0 M507.5,876.2 L514.1,879.8 M514.1,879.8 L514.6,880.9 M491.4,905.4 L496.0,895.8 M509.7,912.3 L510.2,898.5 M503.5,863.5 L507.5,876.2 M490.3,885.2 L490.8,886.0 M525.7,867.8 L514.1,879.8 M544.6,890.2 L536.3,887.2 M544.6,890.2 L550.8,900.3 M536.3,887.2 L533.7,888.3 M533.7,888.3 L526.6,900.1 M550.8,900.3 L547.4,909.2 M547.4,909.2 L529.0,907.1 M526.6,900.1 L529.0,907.1 M556.0,876.4 L544.6,890.2 M535.7,870.8 L536.3,887.2 M561.7,898.4 L550.8,900.3 M514.6,880.9 L533.7,888.3 M511.5,897.3 L526.6,900.1 M549.2,918.4 L547.4,909.2 M524.1,915.6 L529.0,907.1 M493.9,787.6 L488.9,784.6 M493.9,787.6 L498.3,785.0 M498.3,785.0 L500.5,765.4 M488.7,764.3 L498.0,762.8 M498.0,762.8 L500.5,765.4 M492.1,800.5 L493.9,787.6 M509.0,785.6 L498.3,785.0 M516.2,766.2 L500.5,765.4 M499.1,752.2 L498.0,762.8 M249.2,1075.8 L251.1,1078.9 M259.9,1056.3 L268.0,1053.8 M290.5,1077.7 L291.9,1071.4 M291.9,1071.4 L268.0,1053.8 M265.8,1045.6 L268.0,1053.8 M542.6,526.2 L540.0,525.9 M291.9,1071.4 L295.7,1071.1 M302.3,1077.4 L295.7,1071.1 M336.6,1076.4 L323.6,1051.0 M295.7,1071.1 L311.4,1044.6 M323.6,1051.0 L311.4,1044.6 M278.3,1025.7 L291.2,1023.8 M285.5,1014.5 L291.2,1023.8 M311.4,1044.6 L303.7,1032.1 M291.2,1023.8 L303.7,1032.1 M549.9,647.7 L545.7,650.5 M545.7,650.5 L540.0,646.5 M319.8,957.7 L321.3,959.2 M321.3,959.2 L322.2,964.9 M301.5,987.6 L305.5,989.7 M322.2,964.9 L305.5,989.7 M303.7,1032.1 L312.8,1004.9 M305.5,989.7 L312.8,1004.9 M312.8,1004.9 L340.7,1015.6 M323.6,1051.0 L349.7,1047.3 M349.7,1047.3 L340.7,1015.6 M322.2,964.9 L348.8,1004.3 M340.7,1015.6 L348.8,1004.3 M473.9,983.6 L470.6,980.2 M491.2,966.0 L476.4,957.7 M476.4,957.7 L470.6,980.2 M476.4,957.7 L466.5,939.2 M466.5,939.2 L482.9,924.7 M492.7,928.4 L482.9,924.7 M349.7,1047.3 L356.3,1051.6 M365.7,1075.5 L356.3,1051.6 M470.6,980.2 L450.1,979.3 M450.1,979.3 L448.7,994.1 M454.0,1003.5 L448.7,994.1 M448.7,994.1 L414.6,992.9 M395.4,962.6 L414.6,992.9 M395.4,962.6 L396.3,957.6 M450.1,979.3 L431.3,952.5 M431.3,952.5 L396.3,957.6 M321.3,959.2 L349.0,954.5 M349.0,954.5 L344.9,929.8 M340.6,924.8 L344.9,929.8 M356.3,1051.6 L384.1,1049.7 M384.1,1049.7 L396.8,1074.3 M466.5,939.2 L440.2,927.6 M431.3,952.5 L432.7,931.9 M440.2,927.6 L432.7,931.9 M447.9,886.6 L464.9,891.1 M482.9,924.7 L464.9,891.1 M447.9,886.6 L435.2,895.7 M440.2,927.6 L435.2,895.7 M384.1,933.3 L400.5,909.7 M384.1,933.3 L368.1,920.7 M368.1,920.7 L360.2,901.0 M360.2,901.0 L379.7,885.7 M400.5,909.7 L391.2,892.7 M379.7,885.7 L391.2,892.7 M396.3,957.6 L384.1,933.3 M432.7,931.9 L400.5,909.7 M395.4,962.6 L367.0,967.6 M349.0,954.5 L367.0,967.6 M344.9,929.8 L368.1,920.7 M357.4,899.0 L360.2,901.0 M376.1,880.0 L379.7,885.7 M435.2,895.7 L413.6,880.0 M406.0,880.0 L391.2,892.7 M447.9,886.6 L444.5,880.0 M490.2,883.7 L471.6,882.5 M471.6,882.5 L470.5,880.0 M464.9,891.1 L471.6,882.5 M388.8,1037.5 L418.7,1048.4 M388.8,1037.5 L376.4,1010.9 M376.4,1010.9 L376.7,1009.9 M376.7,1009.9 L414.8,1004.6 M425.2,1039.3 L426.0,1022.5 M426.0,1022.5 L414.8,1004.6 M384.1,1049.7 L388.8,1037.5 M348.8,1004.3 L376.4,1010.9 M367.0,967.6 L376.7,1009.9 M414.6,992.9 L414.8,1004.6 M435.6,1024.7 L426.0,1022.5 M533.5,735.0 L494.5,961.1 M366.7,880.0 L344.1,735.0"/>

</g>
<polygon points="384.5,71 600,70.5 785,72.5 768.75,92 760,93.75 760,97.5 750,102.5 748.75,117 751,122.5 753.75,133.75 752.5,140 748.75,150 746,160 748.75,170 747.5,177.5 743.75,190 740,196 738.75,207.5 735,216 735,224 730,232.5 725,239 715,242.5 712.5,252.5 711,259 695,262.5 690,270 687.5,280 682.5,285 680,300 678.75,315 677.5,325 677.5,335 674,349 670,356 677.5,370 680,385 677.5,391 674,415 672.5,420 662.5,426 667.5,440 660.6,446 662.5,454 669.4,460 670,475 667.5,487.5 672.5,497 666,507.5 660,515 653,520 651,527.5 647,535 643.75,540 637.5,551 630,556 626,564 624,575 612.5,584 610,596 607.5,606 597.5,615 589,624 579,627.5 580,635 567.5,642.5 562.5,650 545,651 534,657.5 535,665 535,675 532.5,687.5 535,707.5 529,720 534,735 532.5,745 526,762.5 522.5,775 526,800 529,825 530,830 532.5,839 540,846 542,856 552.5,871 562.5,880 569,884 582.5,885 584,889 581,891 589,898 584,901 581,911 577.5,921 570,929 567.5,935 568,943 562.5,947.5 561,955 547.5,957.5 540,954 536,949 524,948 517.5,945 515,942 507.5,942.5 502.5,947.5 501,956 496,960 490,967.5 487.5,974 475,982.5 442.5,1015 400,1074.5 247.5,1079 267.5,1042.5 290,1007.5 300,990 327.5,945 360,895 366,880 372.5,873 381,864 385,857.5 387.5,845 386,832.5 385,824 377.5,811 366,809 365,802.5 369,795 367.5,784 366,772.5 355,752.5 350,741 340,732 330,724 330,715 334,705 331,692.5 325.6,682.5 325,671 322.5,655 337.5,641 342.5,622.5 349,592.5 350,585 356,566 362.5,544 371,512.5 372.5,503 357.5,496 353,492.5 351,477.5 346,476 332.5,461 335.6,444 339,416 340.6,400 344,387.5 347.5,352.5 351,320" fill="none" stroke="#000" stroke-width="1.1"/>
</g>
<!-- frame -->
<g fill="none" stroke="#000">
<path d="M91.5 60.5 H938.5" stroke-width="1.2"/>
<path d="M938 60 H1494" stroke-width="2.2"/>
<path d="M91.5 60 V1094" stroke-width="1.3"/>
<path d="M91 1093.5 H1495.5" stroke-width="1.6"/>
<path d="M938.5 60 V1094" stroke-width="1.3"/>
<path d="M1493.5 60 V1094" stroke-width="1.3"/>
<path d="M1495.5 61 V1094" stroke-width="1.3"/>
<path d="M938 310.5 H1494 M938 383.5 H1494 M938 531.5 H1494 M938 773.5 H1494 M938 838.5 H1494 M938 971.5 H1494" stroke-width="1.3"/>
</g>
<!-- texts -->
<g font-family="Liberation Sans, sans-serif" fill="#000">
<text x="1021" y="119" font-family="Liberation Serif, serif" font-size="44" textLength="389" lengthAdjust="spacingAndGlyphs">Provincia de Santa Fe</text>
<text x="1079" y="158.2" font-size="24.3" textLength="275" lengthAdjust="spacing">Ministerio Coordinador</text>
<text x="951.5" y="291.6" font-size="25" textLength="526" lengthAdjust="spacing">Instituto Provincial de Estadística y Censos</text>
<text x="1014" y="339.8" font-size="22" textLength="398" lengthAdjust="spacing">Proyección Conforme de Gauss Krügger</text>
<text x="1038.5" y="365" font-size="22" textLength="348" lengthAdjust="spacing">Sistema de referencia POSGAR 94</text>
<g font-family="Liberation Serif, serif" font-weight="bold" fill="#1E14C2" font-size="23.5">
<text x="1046.5" y="432.5" textLength="337" lengthAdjust="spacing">PORCENTAJE DE HOGARES</text>
<text x="938" y="459" textLength="556" lengthAdjust="spacing">CON NECESIDADES BÁSICAS INSATISFECHAS</text>
<text x="1108.5" y="487" textLength="212.5" lengthAdjust="spacing">SEGUN DISTRITO</text>
<text x="1166" y="515.2" textLength="96.5" lengthAdjust="spacing">Año 2001</text>
</g>
<text x="957" y="586" font-family="Liberation Serif, serif" font-size="26.3" textLength="189" lengthAdjust="spacing">REFERENCIAS:</text>
<text x="1100.5" y="648" font-family="Liberation Serif, serif" font-size="25.5" textLength="194" lengthAdjust="spacing">Límite de Distrito</text>
<g font-size="23.3">
<text x="1106" y="683.3" textLength="90" lengthAdjust="spacing">0 - 10 %</text>
<text x="1106" y="711.6" textLength="139" lengthAdjust="spacing">10.01 - 17 %</text>
<text x="1106" y="739.1" textLength="139" lengthAdjust="spacing">17.01 - 28 %</text>
<text x="1106" y="767" textLength="139" lengthAdjust="spacing">28.01 - 47 %</text>
</g>
<g font-size="20.3">
<text x="958.5" y="821" textLength="245" lengthAdjust="spacing">Fuente:&#160; C.N.P.y V. 2001</text>
<text x="960.5" y="884.4" textLength="177" lengthAdjust="spacing">Edición:&#160; 12/2.005</text>
<text x="960.5" y="909.6" textLength="235" lengthAdjust="spacing">Actualización:&#160; 07/2.005</text>
<text x="960.5" y="935" textLength="245" lengthAdjust="spacing">Es propiedad Ley 10.547</text>
<text x="955.5" y="1013.7" textLength="189" lengthAdjust="spacing">Escala 1:4.000.000</text>
</g>
<g font-size="18.4">
<text x="984" y="1053.5">0</text>
<text x="1047" y="1053.5">50</text>
<text x="1112" y="1053.5">100</text>
<text x="1183" y="1053.5">150</text>
<text x="1253" y="1053.5">200</text>
<text x="1312" y="1053.5">Km</text>
</g>
<text x="1420.5" y="1001" font-family="Liberation Serif, serif" font-size="17">N</text>
</g>
<!-- legend -->
<path d="M968 631.5 H1063.5" stroke="#000" stroke-width="1.3"/>
<g stroke="#000" stroke-width="1.3">
<rect x="975.5" y="668.5" width="78" height="20.5" fill="#B8E08A"/>
<rect x="975.5" y="693.5" width="78" height="20.5" fill="#FEF6A6"/>
<rect x="975.5" y="718.5" width="78" height="20.5" fill="#FFAD02"/>
<rect x="975.5" y="742.5" width="78" height="21.5" fill="#14A5AD"/>
</g>
<!-- scale bar -->
<g stroke="#000" stroke-width="1">
<rect x="991.5" y="1061.5" width="282" height="13" fill="#fff"/>
<rect x="991.5" y="1061.5" width="71" height="6.5" fill="#000"/>
<rect x="1133" y="1061.5" width="71" height="6.5" fill="#000"/>
<rect x="1061" y="1068" width="72" height="6.5" fill="#000"/>
<rect x="1203" y="1068" width="70.5" height="6.5" fill="#000"/>
</g>
<!-- north arrow -->
<g stroke="#000" stroke-width="1" stroke-linejoin="miter">
<polygon points="1428.6,1048.4 1428.6,1008.5 1435,1042.8" fill="#000"/>
<polygon points="1428.6,1048.4 1428.6,1008.5 1421,1042.5" fill="#fff"/>
<polygon points="1428.6,1048.4 1469,1048.4 1435,1056" fill="#000"/>
<polygon points="1428.6,1048.4 1469,1048.4 1435,1042.8" fill="#fff"/>
<polygon points="1428.6,1048.4 1428.6,1089.8 1421.5,1055.5" fill="#000"/>
<polygon points="1428.6,1048.4 1428.6,1089.8 1435,1056" fill="#fff"/>
<polygon points="1428.6,1048.4 1387,1048.4 1421,1042.5" fill="#000"/>
<polygon points="1428.6,1048.4 1387,1048.4 1421.5,1055.5" fill="#fff"/>
</g>
<!-- logo -->
<g>
<path d="M1194.5 186 A54.7 31 0 0 0 1194.5 248 Z" fill="#D80000"/>
<path d="M1194.5 186 A54.7 31 0 0 1 1194.5 248 Z" fill="#0A0AA8"/>
<ellipse cx="1192.4" cy="210.8" rx="32" ry="24.6" fill="#fff"/>
<path d="M1166,190.9 A54.7 31 0 0 1 1220,189.9" fill="none" stroke="#444" stroke-width="0.9"/>
<text x="1166.5" y="216.6" font-family="Liberation Serif, serif" font-weight="bold" font-size="24.3" fill="#0A0A9A" textLength="54.5" lengthAdjust="spacingAndGlyphs">IPEC</text>
</g>

</svg>
</body></html>
